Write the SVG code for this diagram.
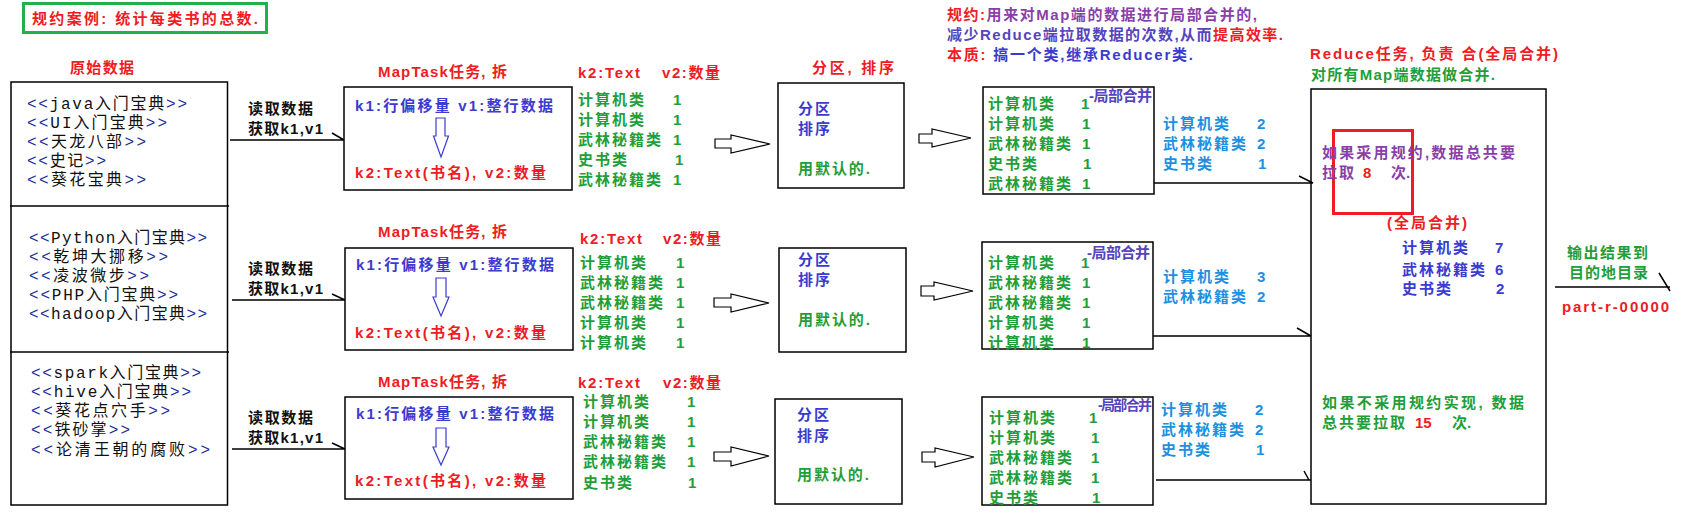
<svg xmlns="http://www.w3.org/2000/svg" width="1684" height="517" viewBox="0 0 1684 517">
<style>
text{font-family:"Liberation Sans","Noto Sans CJK SC",sans-serif;font-weight:bold;font-size:15px}
.it{font-family:"Liberation Mono","Noto Sans CJK SC",monospace;font-weight:normal;font-size:16px;fill:#111}
.it tspan.a{fill:#1a2a9a}
.r{fill:#ee1c24}.g{fill:#1f9e3a}.bl{fill:#3b3bd0}.k{fill:#111}.p{fill:#8a3fa8}.c{fill:#1e90e0}.pb{fill:#5544bb}
.box{fill:none;stroke:#000;stroke-width:1.5}
.ln{stroke:#000;stroke-width:1.5;fill:none}
.ha{fill:#fff;stroke:#000;stroke-width:1.2}
.va{fill:#fff;stroke:#3b3bd0;stroke-width:1.2}
.ls{letter-spacing:2px}
</style>

<g id="title">
<rect x="23.5" y="3.5" width="243" height="29" fill="none" stroke="#22b14c" stroke-width="3"/>
<text x="32" y="24" class="r" textLength="226" lengthAdjust="spacing">规约案例: 统计每类书的总数.</text>
</g>

<g id="source">
<text x="70" y="73" class="r" textLength="64" lengthAdjust="spacing">原始数据</text>
<rect class="box" x="11" y="82" width="216.5" height="423"/>
<line class="ln" x1="10" y1="206" x2="229" y2="206"/>
<line class="ln" x1="10" y1="352" x2="229" y2="352"/>
<text class="it" x="27" y="109" textLength="160" lengthAdjust="spacing"><tspan class="a">&lt;&lt;</tspan>java入门宝典<tspan class="a">&gt;&gt;</tspan></text>
<text class="it" x="27" y="128" textLength="140" lengthAdjust="spacing"><tspan class="a">&lt;&lt;</tspan>UI入门宝典<tspan class="a">&gt;&gt;</tspan></text>
<text class="it" x="27" y="147" textLength="119" lengthAdjust="spacing"><tspan class="a">&lt;&lt;</tspan>天龙八部<tspan class="a">&gt;&gt;</tspan></text>
<text class="it" x="27" y="166" textLength="79" lengthAdjust="spacing"><tspan class="a">&lt;&lt;</tspan>史记<tspan class="a">&gt;&gt;</tspan></text>
<text class="it" x="27" y="185" textLength="119" lengthAdjust="spacing"><tspan class="a">&lt;&lt;</tspan>葵花宝典<tspan class="a">&gt;&gt;</tspan></text>
<text class="it" x="29" y="243" textLength="178" lengthAdjust="spacing"><tspan class="a">&lt;&lt;</tspan>Python入门宝典<tspan class="a">&gt;&gt;</tspan></text>
<text class="it" x="29" y="262" textLength="139" lengthAdjust="spacing"><tspan class="a">&lt;&lt;</tspan>乾坤大挪移<tspan class="a">&gt;&gt;</tspan></text>
<text class="it" x="29" y="281" textLength="120" lengthAdjust="spacing"><tspan class="a">&lt;&lt;</tspan>凌波微步<tspan class="a">&gt;&gt;</tspan></text>
<text class="it" x="29" y="300" textLength="149" lengthAdjust="spacing"><tspan class="a">&lt;&lt;</tspan>PHP入门宝典<tspan class="a">&gt;&gt;</tspan></text>
<text class="it" x="29" y="319" textLength="178" lengthAdjust="spacing"><tspan class="a">&lt;&lt;</tspan>hadoop入门宝典<tspan class="a">&gt;&gt;</tspan></text>
<text class="it" x="31" y="378" textLength="170" lengthAdjust="spacing"><tspan class="a">&lt;&lt;</tspan>spark入门宝典<tspan class="a">&gt;&gt;</tspan></text>
<text class="it" x="31" y="397" textLength="160" lengthAdjust="spacing"><tspan class="a">&lt;&lt;</tspan>hive入门宝典<tspan class="a">&gt;&gt;</tspan></text>
<text class="it" x="31" y="416" textLength="139" lengthAdjust="spacing"><tspan class="a">&lt;&lt;</tspan>葵花点穴手<tspan class="a">&gt;&gt;</tspan></text>
<text class="it" x="31" y="435" textLength="99" lengthAdjust="spacing"><tspan class="a">&lt;&lt;</tspan>铁砂掌<tspan class="a">&gt;&gt;</tspan></text>
<text class="it" x="31" y="455" textLength="179" lengthAdjust="spacing"><tspan class="a">&lt;&lt;</tspan>论清王朝的腐败<tspan class="a">&gt;&gt;</tspan></text>
</g>

<g id="connectors">
<text x="248" y="114" class="k" textLength="65" lengthAdjust="spacing">读取数据</text>
<text x="248" y="134" class="k" textLength="75" lengthAdjust="spacing">获取k1,v1</text>
<text x="248" y="274" class="k" textLength="65" lengthAdjust="spacing">读取数据</text>
<text x="248" y="294" class="k" textLength="75" lengthAdjust="spacing">获取k1,v1</text>
<text x="248" y="423" class="k" textLength="65" lengthAdjust="spacing">读取数据</text>
<text x="248" y="443" class="k" textLength="75" lengthAdjust="spacing">获取k1,v1</text>
<path class="ln" d="M230 140H344M332 133L344 140"/>
<path class="ln" d="M232 300H345M332 294L345 300"/>
<path class="ln" d="M232 449H345M332 443L345 449"/>
<polygon class="ha" points="715,139 731,139 731,135 770,144 731,153 731,148 715,148"/>
<polygon class="ha" points="714,298 731,298 731,294 769,303 731,312 731,307 714,307"/>
<polygon class="ha" points="714,452 731,452 731,447 769,456 731,466 731,461 714,461"/>
<polygon class="ha" points="919,134 932,134 932,129 971,138 932,147 932,143 919,143"/>
<polygon class="ha" points="921,286 934,286 934,282 973,291 934,300 934,296 921,296"/>
<polygon class="ha" points="922,452 935,452 935,448 974,457 935,467 935,462 922,462"/>
<path class="ln" d="M1154 183H1313M1299 176L1313 183"/>
<path class="ln" d="M1153 336H1311M1297 328L1311 336"/>
<path class="ln" d="M1156 480H1311M1304 471L1309 480"/>
<path class="ln" d="M1555 287H1670M1659 273L1670 291"/>
</g>

<g id="map1">
<text x="378" y="77" class="r" textLength="129" lengthAdjust="spacing">MapTask任务, 拆</text>
<rect class="box" x="344" y="87" width="228" height="103"/>
<text x="355" y="111" class="bl" textLength="198" lengthAdjust="spacing">k1:行偏移量 v1:整行数据</text>
<polygon class="va" points="436,118 445,118 445,136 448.5,136 441,157 433.5,136 436,136"/>
<text x="355" y="178" class="r" textLength="191" lengthAdjust="spacing">k2:Text(书名), v2:数量</text>
</g>
<g id="map2">
<text x="378" y="237" class="r" textLength="129" lengthAdjust="spacing">MapTask任务, 拆</text>
<rect class="box" x="345" y="248" width="228" height="102"/>
<text x="356" y="270" class="bl" textLength="198" lengthAdjust="spacing">k1:行偏移量 v1:整行数据</text>
<polygon class="va" points="436,278 446,278 446,297 449,297 441,316 433,297 436,297"/>
<text x="355" y="338" class="r" textLength="191" lengthAdjust="spacing">k2:Text(书名), v2:数量</text>
</g>
<g id="map3">
<text x="378" y="387" class="r" textLength="129" lengthAdjust="spacing">MapTask任务, 拆</text>
<rect class="box" x="345" y="397" width="228" height="102"/>
<text x="356" y="419" class="bl" textLength="198" lengthAdjust="spacing">k1:行偏移量 v1:整行数据</text>
<polygon class="va" points="436,428 446,428 446,447 449,447 441,465 433,447 436,447"/>
<text x="355" y="486" class="r" textLength="191" lengthAdjust="spacing">k2:Text(书名), v2:数量</text>
</g>

<g id="mapout1">
<text x="578" y="78" class="r" textLength="62" lengthAdjust="spacing">k2:Text</text>
<text x="662" y="78" class="r" textLength="58" lengthAdjust="spacing">v2:数量</text>
<text x="578" y="105" class="g ls">计算机类</text><text x="673" y="105" class="g">1</text>
<text x="578" y="125" class="g ls">计算机类</text><text x="673" y="125" class="g">1</text>
<text x="578" y="145" class="g ls">武林秘籍类</text><text x="673" y="145" class="g">1</text>
<text x="578" y="165" class="g ls">史书类</text><text x="675" y="165" class="g">1</text>
<text x="578" y="185" class="g ls">武林秘籍类</text><text x="673" y="185" class="g">1</text>
</g>
<g id="mapout2">
<text x="580" y="244" class="r" textLength="62" lengthAdjust="spacing">k2:Text</text>
<text x="663" y="244" class="r" textLength="58" lengthAdjust="spacing">v2:数量</text>
<text x="580" y="268" class="g ls">计算机类</text><text x="676" y="268" class="g">1</text>
<text x="580" y="288" class="g ls">武林秘籍类</text><text x="676" y="288" class="g">1</text>
<text x="580" y="308" class="g ls">武林秘籍类</text><text x="676" y="308" class="g">1</text>
<text x="580" y="328" class="g ls">计算机类</text><text x="676" y="328" class="g">1</text>
<text x="580" y="348" class="g ls">计算机类</text><text x="676" y="348" class="g">1</text>
</g>
<g id="mapout3">
<text x="578" y="388" class="r" textLength="62" lengthAdjust="spacing">k2:Text</text>
<text x="663" y="388" class="r" textLength="58" lengthAdjust="spacing">v2:数量</text>
<text x="583" y="407" class="g ls">计算机类</text><text x="687" y="407" class="g">1</text>
<text x="583" y="427" class="g ls">计算机类</text><text x="687" y="427" class="g">1</text>
<text x="583" y="447" class="g ls">武林秘籍类</text><text x="687" y="447" class="g">1</text>
<text x="583" y="467" class="g ls">武林秘籍类</text><text x="687" y="467" class="g">1</text>
<text x="583" y="488" class="g ls">史书类</text><text x="688" y="488" class="g">1</text>
</g>

<g id="part1">
<text x="812" y="73" class="r" textLength="82" lengthAdjust="spacing">分区, 排序</text>
<rect class="box" x="778" y="83" width="126" height="105"/>
<text x="798" y="114" class="bl ls">分区</text>
<text x="798" y="134" class="bl ls">排序</text>
<text x="798" y="174" class="g" textLength="72" lengthAdjust="spacing">用默认的.</text>
</g>
<g id="part2">
<rect class="box" x="779" y="248" width="127" height="104"/>
<text x="798" y="265" class="bl ls">分区</text>
<text x="798" y="285" class="bl ls">排序</text>
<text x="798" y="325" class="g" textLength="72" lengthAdjust="spacing">用默认的.</text>
</g>
<g id="part3">
<rect class="box" x="775" y="399" width="127" height="105"/>
<text x="797" y="420" class="bl ls">分区</text>
<text x="797" y="441" class="bl ls">排序</text>
<text x="797" y="480" class="g" textLength="72" lengthAdjust="spacing">用默认的.</text>
</g>

<g id="note">
<text x="947" y="20" textLength="310" lengthAdjust="spacing"><tspan class="r">规约:</tspan><tspan class="p">用来对Map端的数据进行局部合并的,</tspan></text>
<text x="947" y="40" textLength="336" lengthAdjust="spacing"><tspan class="pb">减少Reduce端拉取数据的次数,从而</tspan><tspan class="r">提高效率.</tspan></text>
<text x="947" y="60" textLength="246" lengthAdjust="spacing"><tspan class="r">本质: </tspan><tspan class="bl">搞一个类,继承Reducer类.</tspan></text>
</g>

<g id="combine1">
<rect class="box" x="983" y="87" width="171" height="107"/>
<text x="1089" y="101" class="pb" textLength="63" lengthAdjust="spacing">-局部合并</text>
<text x="988" y="109" class="g ls">计算机类</text><text x="1081" y="109" class="g">1</text>
<text x="988" y="129" class="g ls">计算机类</text><text x="1082" y="129" class="g">1</text>
<text x="988" y="149" class="g ls">武林秘籍类</text><text x="1082" y="149" class="g">1</text>
<text x="988" y="169" class="g ls">史书类</text><text x="1083" y="169" class="g">1</text>
<text x="988" y="189" class="g ls">武林秘籍类</text><text x="1082" y="189" class="g">1</text>
</g>
<g id="combine2">
<rect class="box" x="982" y="242" width="171" height="107"/>
<text x="1087" y="258" class="pb" textLength="63" lengthAdjust="spacing">-局部合并</text>
<text x="988" y="268" class="g ls">计算机类</text><text x="1081" y="268" class="g">1</text>
<text x="988" y="288" class="g ls">武林秘籍类</text><text x="1082" y="288" class="g">1</text>
<text x="988" y="308" class="g ls">武林秘籍类</text><text x="1082" y="308" class="g">1</text>
<text x="988" y="328" class="g ls">计算机类</text><text x="1082" y="328" class="g">1</text>
<text x="988" y="348" class="g ls">计算机类</text><text x="1082" y="348" class="g">1</text>
</g>
<g id="combine3">
<rect class="box" x="982" y="397" width="171" height="108"/>
<text x="1098" y="410" class="pb" style="font-size:14px" textLength="54" lengthAdjust="spacing">-局部合并</text>
<text x="989" y="423" class="g ls">计算机类</text><text x="1089" y="423" class="g">1</text>
<text x="989" y="443" class="g ls">计算机类</text><text x="1091" y="443" class="g">1</text>
<text x="989" y="463" class="g ls">武林秘籍类</text><text x="1091" y="463" class="g">1</text>
<text x="989" y="483" class="g ls">武林秘籍类</text><text x="1091" y="483" class="g">1</text>
<text x="989" y="503" class="g ls">史书类</text><text x="1092" y="503" class="g">1</text>
</g>

<g id="combout1">
<text x="1163" y="129" class="c ls">计算机类</text><text x="1257" y="129" class="c">2</text>
<text x="1163" y="149" class="c ls">武林秘籍类</text><text x="1257" y="149" class="c">2</text>
<text x="1163" y="169" class="c ls">史书类</text><text x="1258" y="169" class="c">1</text>
</g>
<g id="combout2">
<text x="1163" y="282" class="c ls">计算机类</text><text x="1257" y="282" class="c">3</text>
<text x="1163" y="302" class="c ls">武林秘籍类</text><text x="1257" y="302" class="c">2</text>
</g>
<g id="combout3">
<text x="1161" y="415" class="c ls">计算机类</text><text x="1255" y="415" class="c">2</text>
<text x="1161" y="435" class="c ls">武林秘籍类</text><text x="1255" y="435" class="c">2</text>
<text x="1161" y="455" class="c ls">史书类</text><text x="1256" y="455" class="c">1</text>
</g>

<g id="reduce">
<text x="1310" y="59" class="r" textLength="248" lengthAdjust="spacing">Reduce任务, 负责 合(全局合并)</text>
<text x="1311" y="80" class="g" textLength="184" lengthAdjust="spacing">对所有Map端数据做合并.</text>
<rect class="box" x="1311" y="89" width="235" height="415"/>
<rect x="1333.5" y="130.5" width="79" height="83" fill="none" stroke="#ee1c24" stroke-width="3"/>
<text x="1322" y="158" class="p" textLength="193" lengthAdjust="spacing">如果采用规约,数据总共要</text>
<text x="1322" y="178" class="p ls">拉取</text>
<text x="1363" y="178" class="r">8</text>
<text x="1391" y="178" class="p">次.</text>
<text x="1387" y="228" class="r" textLength="80" lengthAdjust="spacing">(全局合并)</text>
<text x="1402" y="253" class="bl ls">计算机类</text><text x="1495" y="253" class="bl">7</text>
<text x="1402" y="275" class="bl ls">武林秘籍类</text><text x="1495" y="275" class="bl">6</text>
<text x="1402" y="294" class="bl ls">史书类</text><text x="1496" y="294" class="bl">2</text>
<text x="1322" y="408" class="g" textLength="202" lengthAdjust="spacing">如果不采用规约实现, 数据</text>
<text x="1322" y="428" class="g ls">总共要拉取</text>
<text x="1415" y="428" class="r">15</text>
<text x="1452" y="428" class="g">次.</text>
</g>

<g id="output">
<text x="1567" y="258" class="g" textLength="81" lengthAdjust="spacing">输出结果到</text>
<text x="1569" y="278" class="g" textLength="79" lengthAdjust="spacing">目的地目录</text>
<text x="1562" y="312" class="r" textLength="107" lengthAdjust="spacing">part-r-00000</text>
</g>
</svg>
